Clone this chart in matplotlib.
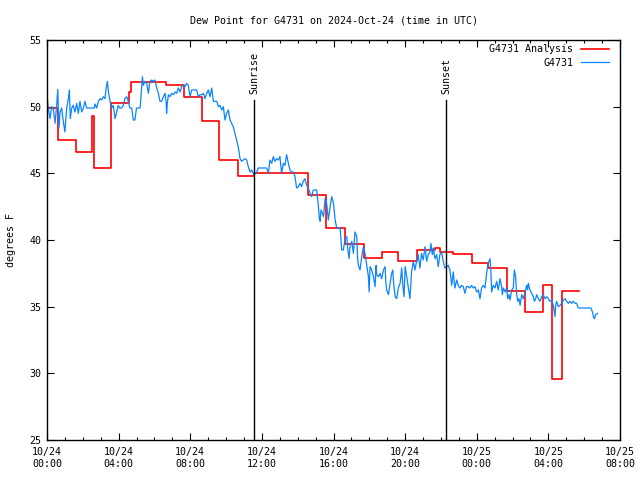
import matplotlib
matplotlib.use("Agg")
import matplotlib.pyplot as plt
import matplotlib.dates as mdates
import pandas as pd

# hours after 2024-10-24 00:00 UTC
analysis_hours = [0.0, 0.63, 1.63, 2.52, 2.6, 3.6, 4.6, 4.7, 6.63, 7.65, 8.65, 9.6,
                  10.65, 11.56, 14.6, 15.6, 16.63, 17.7, 18.7, 19.62, 20.66, 21.67,
                  21.95, 22.67, 23.73, 24.63, 25.69, 26.7, 27.72, 28.22, 28.74, 28.78,
                  29.7]
analysis_dewpt = [49.9, 47.5, 46.6, 49.3, 45.4, 50.3, 51.1, 51.85, 51.6, 50.75, 48.9, 46.0,
                  44.8, 45.05, 43.4, 40.9, 39.7, 38.65, 39.1, 38.4, 39.25, 39.4,
                  39.1, 38.95, 38.3, 37.9, 36.2, 34.6, 36.6, 29.6, 32.9, 36.2,
                  36.2]

obs_hours = [
    0.0, 0.07, 0.17, 0.26, 0.35, 0.45, 0.54, 0.6, 0.67, 0.73, 0.82, 0.91, 1.0, 1.1,
    1.19, 1.25, 1.3, 1.38, 1.47, 1.56, 1.66, 1.75, 1.84, 1.94, 2.03, 2.12, 2.21, 2.3,
    2.64, 2.68, 2.77, 2.87, 2.96, 3.05, 3.15, 3.24, 3.29, 3.37, 3.43, 3.52, 3.61, 3.7,
    3.8, 3.89, 3.98, 4.06, 4.17, 4.26, 4.35, 4.45, 4.54, 4.63, 4.73, 4.82, 4.91, 5.0,
    5.1, 5.2, 5.29, 5.33, 5.38, 5.47, 5.57, 5.66, 5.75, 5.85, 5.94, 6.03, 6.13, 6.22,
    6.31, 6.4, 6.5, 6.59, 6.65, 6.68, 6.72, 6.78, 6.87, 6.96, 7.06, 7.15, 7.24, 7.33,
    7.43, 7.52, 7.61, 7.71, 7.8, 7.89, 7.99, 8.08, 8.17, 8.26, 8.36, 8.45, 8.54, 8.64,
    8.73, 8.82, 8.92, 9.01, 9.1, 9.2, 9.29, 9.38, 9.48, 9.57, 9.66, 9.76, 9.85, 9.94,
    10.03, 10.13, 10.22, 10.4, 10.59, 10.68, 10.78, 10.87, 10.96, 11.06, 11.15, 11.24,
    11.34, 11.43, 11.52, 11.58, 11.62, 11.71, 11.8, 11.99, 12.17, 12.27, 12.36, 12.45,
    12.55, 12.64, 12.73, 12.83, 12.92, 13.01, 13.1, 13.2, 13.29, 13.38, 13.48, 13.57,
    13.66, 13.76, 13.85, 13.94, 14.04, 14.13, 14.22, 14.31, 14.41, 14.5, 14.59, 14.69,
    14.78, 14.87, 15.06, 15.16, 15.21, 15.25, 15.3, 15.38, 15.44, 15.53, 15.62, 15.71,
    15.81, 15.9, 16.0, 16.09, 16.18, 16.27, 16.37, 16.42, 16.46, 16.55, 16.65, 16.74,
    16.79, 16.87, 16.92, 17.02, 17.11, 17.2, 17.3, 17.35, 17.39, 17.48, 17.58, 17.67,
    17.76, 17.86, 17.95, 17.99, 18.04, 18.13, 18.23, 18.32, 18.38, 18.41, 18.51, 18.6,
    18.69, 18.79, 18.88, 18.93, 18.97, 19.07, 19.16, 19.25, 19.31, 19.36, 19.44, 19.53,
    19.62, 19.72, 19.81, 19.87, 19.94, 20.0, 20.09, 20.18, 20.27, 20.36, 20.46, 20.55,
    20.64, 20.73, 20.83, 20.92, 21.01, 21.11, 21.2, 21.29, 21.39, 21.44, 21.52, 21.57,
    21.67, 21.76, 21.85, 21.94, 22.04, 22.13, 22.22, 22.32, 22.41, 22.5, 22.6, 22.69,
    22.78, 22.88, 22.97, 23.06, 23.15, 23.25, 23.34, 23.43, 23.53, 23.62, 23.71, 23.81,
    23.9, 24.0, 24.09, 24.18, 24.27, 24.36, 24.46, 24.55, 24.64, 24.74, 24.79, 24.83,
    24.92, 25.02, 25.11, 25.2, 25.3, 25.39, 25.43, 25.49, 25.58, 25.67, 25.73, 25.8,
    25.86, 25.95, 26.04, 26.1, 26.17, 26.23, 26.29, 26.36, 26.42, 26.51, 26.6, 26.7,
    26.79, 26.84, 26.88, 26.97, 27.07, 27.16, 27.22, 27.29, 27.35, 27.44, 27.53, 27.63,
    27.72, 27.81, 27.91, 28.0, 28.09, 28.18, 28.28, 28.37, 28.41, 28.46, 28.56, 28.65,
    28.74, 28.84, 28.93, 29.02, 29.12, 29.21, 29.3, 29.39, 29.49, 29.58, 29.67, 30.38,
    30.46, 30.53, 30.57, 30.64, 30.75,
]
obs_dewpt = [
    50.9, 49.9, 49.1, 50.0, 49.9, 48.75, 50.1, 51.3, 48.4, 49.6, 49.9, 48.9, 48.1, 49.9,
    50.6, 51.25, 49.1, 49.9, 50.1, 49.6, 50.25, 49.5, 50.4, 49.6, 49.9, 50.4, 49.9, 49.9,
    49.9, 50.2, 49.9, 50.4, 50.6, 50.5, 50.75, 50.6, 51.25, 51.9, 51.1, 50.4, 49.9, 50.1,
    49.1, 49.6, 50.1, 49.9, 49.9, 50.1, 50.6, 50.75, 50.4, 49.9, 49.9, 49.0, 49.0, 49.9,
    49.9, 49.9, 51.5, 52.25, 51.6, 51.9, 51.75, 51.0, 51.9, 52.0, 51.9, 52.0, 51.4, 51.0,
    50.4, 50.4, 50.75, 51.0, 50.4, 49.5, 50.25, 50.9, 50.75, 51.0, 50.9, 51.1, 51.0, 51.4,
    51.1, 51.5, 51.6, 51.5, 51.75, 51.6, 50.75, 51.25, 51.25, 51.25, 51.25, 50.75, 50.9, 50.9,
    51.0, 50.6, 51.0, 51.25, 50.75, 51.4, 50.4, 50.4, 50.4, 50.0, 50.1, 49.75, 50.0, 49.0,
    49.5, 49.75, 49.0, 48.5, 47.5, 47.0, 46.1, 45.9, 46.0, 46.1, 46.0, 45.5,
    45.1, 45.25, 45.0, 44.9, 45.0, 45.1, 45.4, 45.4, 45.4, 45.4, 45.0, 46.0,
    45.75, 46.25, 45.9, 46.1, 46.0, 46.25, 45.0, 45.75, 45.6, 46.4, 45.75, 45.25,
    45.1, 45.1, 44.75, 43.9, 44.0, 44.25, 44.0, 44.4, 44.6, 44.1, 43.9, 43.5,
    43.25, 43.75, 43.75, 42.5, 41.6, 41.4, 42.25, 42.0, 41.75, 43.1, 42.75, 41.5,
    42.5, 43.25, 42.75, 41.5, 40.9, 40.9, 40.9, 40.0, 39.25, 39.25, 40.1, 40.25,
    39.4, 38.6, 39.5, 39.9, 39.0, 40.6, 40.25, 38.5, 38.1, 37.75, 38.75, 39.5,
    39.0, 38.1, 37.25, 36.1, 38.0, 37.75, 37.25, 36.5, 38.1, 37.4, 37.25, 37.5,
    37.1, 37.75, 38.0, 36.75, 36.25, 35.9, 36.75, 37.5, 37.75, 36.75, 35.75, 35.6,
    36.4, 36.75, 37.9, 36.6, 35.75, 38.0, 37.25, 36.4, 35.6, 37.6, 38.4, 37.75,
    38.4, 38.9, 37.9, 39.0, 38.5, 39.5, 38.4, 38.9, 39.1, 39.75, 38.9, 39.4,
    38.6, 38.9, 38.0, 38.9, 39.1, 38.4, 37.9, 38.0, 38.1, 37.75, 36.6, 37.6,
    36.4, 37.0, 36.6, 36.4, 36.6, 36.5, 36.0, 36.5, 36.5, 36.4, 36.6, 36.4,
    36.5, 36.1, 36.25, 35.6, 36.4, 36.6, 36.4, 37.5, 38.25, 38.6, 37.6, 36.1,
    36.6, 36.4, 36.9, 36.25, 37.1, 36.5, 35.9, 36.4, 36.1, 36.4, 35.6, 35.9,
    35.5, 36.25, 36.4, 37.75, 37.25, 35.9, 35.4, 35.6, 35.1, 35.9, 35.6, 36.1,
    36.6, 36.25, 36.75, 36.25, 36.0, 35.75, 35.4, 35.6, 35.9, 35.6, 35.4, 35.75,
    35.9, 35.6, 35.75, 35.6, 35.4, 35.5, 35.1, 34.25, 35.1, 35.4, 35.0, 35.1,
    35.25, 35.5, 35.6, 35.4, 35.25, 35.4, 35.25, 35.4, 35.25, 35.25, 34.9, 34.9,
    34.6, 34.2, 34.1, 34.4, 34.5,
]

sun_events = ["Sunrise", "Sunset"]
sun_hours = [11.57, 22.28]

start = pd.Timestamp("2024-10-24 00:00")
ana_t = start + pd.to_timedelta(analysis_hours, unit="h")
obs_t = start + pd.to_timedelta(obs_hours, unit="h")
sun_t = start + pd.to_timedelta(sun_hours, unit="h")

font = "DejaVu Sans Mono"
fs = 7.2
plt.rcParams["font.family"] = font
plt.rcParams["font.size"] = fs

fig = plt.figure(figsize=(6.4, 4.8), dpi=100)
ax = fig.add_axes([47 / 640, 40 / 480, 573 / 640, 400 / 480])

ax.step(ana_t, analysis_dewpt, where="post", color="#ff0000", lw=1.2,
        label="G4731 Analysis")
ax.plot(obs_t, obs_dewpt, color="#0a84ff", lw=0.9, label="G4731")

for name, t in zip(sun_events, sun_t):
    ax.plot([t, t], [25, 50.5], color="black", lw=1.0)
    ax.text(t, 50.95, name, rotation=90, ha="center", va="bottom", fontsize=fs)

ax.set_xlim(start, start + pd.Timedelta(hours=32))
ax.set_ylim(25, 55)
ax.set_yticks(range(25, 56, 5))
ax.xaxis.set_major_locator(mdates.HourLocator(byhour=[0, 4, 8, 12, 16, 20]))
ax.xaxis.set_minor_locator(mdates.HourLocator())
ax.xaxis.set_major_formatter(mdates.DateFormatter("%m/%d\n%H:%M"))

ax.tick_params(which="both", direction="in", top=True, right=True, labelsize=fs,
               color="black", width=0.8)
ax.tick_params(which="major", length=5)
ax.tick_params(which="minor", length=2.5)
ax.tick_params(axis="x", pad=5)
ax.tick_params(axis="y", pad=4)
for s in ax.spines.values():
    s.set_linewidth(1.0)

ax.set_ylabel("degrees F", fontsize=fs, labelpad=10)
ax.set_title("Dew Point for G4731 on 2024-Oct-24 (time in UTC)", fontsize=fs, pad=12)

ax.legend(loc="upper right", bbox_to_anchor=(0.996, 1.01), frameon=False,
          markerfirst=False, fontsize=fs, handlelength=2.8, handletextpad=0.8,
          borderaxespad=0.45, labelspacing=0.35)

fig.savefig("out.png", dpi=100)
